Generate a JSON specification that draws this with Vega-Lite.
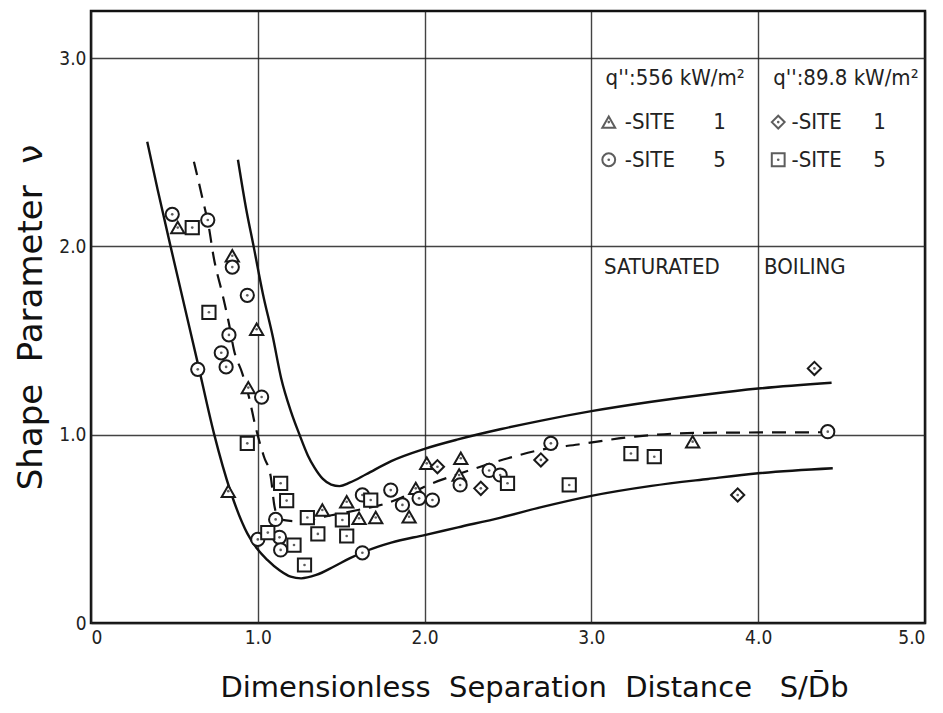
{
  "$schema": "https://vega.github.io/schema/vega-lite/v6.json",
  "width": 834,
  "height": 612,
  "autosize": {"type": "none"},
  "padding": {"left": 91, "top": 11, "right": 18, "bottom": 90},
  "background": "white",
  "config": {
    "view": {"stroke": "#111", "strokeWidth": 2.5},
    "font": "DejaVu Sans Condensed, DejaVu Sans",
    "axis": {
      "domain": false,
      "grid": true,
      "gridColor": "#222",
      "gridWidth": 1.4,
      "gridOpacity": 0.85,
      "ticks": false,
      "labelFont": "DejaVu Sans Condensed, DejaVu Sans",
      "labelFontSize": 19,
      "labelColor": "#222",
      "titleFont": "DejaVu Sans",
      "titleFontWeight": "normal",
      "titleColor": "#111"
    }
  },
  "datasets": {
    "curves": [
      {"curve": "upper", "x": 8.81, "v": 2.46}, {"curve": "upper", "x": 9.3, "v": 2.2}, {"curve": "upper", "x": 9.75, "v": 2.0},
      {"curve": "upper", "x": 10.3, "v": 1.75}, {"curve": "upper", "x": 10.9, "v": 1.52}, {"curve": "upper", "x": 11.4, "v": 1.3},
      {"curve": "upper", "x": 12.0, "v": 1.12}, {"curve": "upper", "x": 12.5, "v": 1.0}, {"curve": "upper", "x": 13.0, "v": 0.89},
      {"curve": "upper", "x": 13.4, "v": 0.825}, {"curve": "upper", "x": 13.9, "v": 0.765}, {"curve": "upper", "x": 14.4, "v": 0.735},
      {"curve": "upper", "x": 14.9, "v": 0.727}, {"curve": "upper", "x": 15.5, "v": 0.745}, {"curve": "upper", "x": 16.5, "v": 0.79},
      {"curve": "upper", "x": 18.0, "v": 0.86}, {"curve": "upper", "x": 20.0, "v": 0.925}, {"curve": "upper", "x": 22.0, "v": 0.975},
      {"curve": "upper", "x": 24.6, "v": 1.03}, {"curve": "upper", "x": 27.0, "v": 1.075}, {"curve": "upper", "x": 30.0, "v": 1.125},
      {"curve": "upper", "x": 33.6, "v": 1.175}, {"curve": "upper", "x": 37.0, "v": 1.215}, {"curve": "upper", "x": 40.0, "v": 1.245},
      {"curve": "upper", "x": 44.4, "v": 1.276},
      {"curve": "lower", "x": 3.37, "v": 2.556}, {"curve": "lower", "x": 4.0, "v": 2.3}, {"curve": "lower", "x": 4.77, "v": 2.0},
      {"curve": "lower", "x": 5.4, "v": 1.76}, {"curve": "lower", "x": 6.4, "v": 1.38}, {"curve": "lower", "x": 7.37, "v": 1.007},
      {"curve": "lower", "x": 8.37, "v": 0.697}, {"curve": "lower", "x": 9.37, "v": 0.476}, {"curve": "lower", "x": 10.0, "v": 0.39},
      {"curve": "lower", "x": 10.57, "v": 0.335}, {"curve": "lower", "x": 11.3, "v": 0.28}, {"curve": "lower", "x": 11.97, "v": 0.246},
      {"curve": "lower", "x": 12.6, "v": 0.237}, {"curve": "lower", "x": 13.5, "v": 0.255}, {"curve": "lower", "x": 14.57, "v": 0.3},
      {"curve": "lower", "x": 15.5, "v": 0.343}, {"curve": "lower", "x": 16.57, "v": 0.385}, {"curve": "lower", "x": 18.0, "v": 0.427},
      {"curve": "lower", "x": 20.0, "v": 0.467}, {"curve": "lower", "x": 22.0, "v": 0.508}, {"curve": "lower", "x": 24.57, "v": 0.56},
      {"curve": "lower", "x": 27.0, "v": 0.615}, {"curve": "lower", "x": 30.0, "v": 0.675}, {"curve": "lower", "x": 33.6, "v": 0.728},
      {"curve": "lower", "x": 37.0, "v": 0.765}, {"curve": "lower", "x": 40.0, "v": 0.795}, {"curve": "lower", "x": 44.47, "v": 0.822}
    ],
    "mean": [
      {"x": 6.17, "v": 2.45}, {"x": 6.67, "v": 2.26}, {"x": 7.07, "v": 2.1}, {"x": 7.35, "v": 1.945}, {"x": 7.87, "v": 1.75},
      {"x": 8.27, "v": 1.59}, {"x": 8.57, "v": 1.45}, {"x": 9.07, "v": 1.326}, {"x": 9.47, "v": 1.2}, {"x": 9.87, "v": 1.04},
      {"x": 10.37, "v": 0.883}, {"x": 10.77, "v": 0.78}, {"x": 11.0, "v": 0.62}, {"x": 11.3, "v": 0.55}, {"x": 12.5, "v": 0.54},
      {"x": 14.0, "v": 0.565}, {"x": 16.0, "v": 0.6}, {"x": 17.5, "v": 0.63}, {"x": 18.6, "v": 0.665}, {"x": 20.4, "v": 0.74},
      {"x": 22.0, "v": 0.79}, {"x": 25.0, "v": 0.875}, {"x": 27.0, "v": 0.92}, {"x": 29.2, "v": 0.948}, {"x": 32.6, "v": 0.99},
      {"x": 36.6, "v": 1.01}, {"x": 44.2, "v": 1.013}
    ],
    "obs": [
      {"site": "556-5", "x": 4.87, "v": 2.17}, {"site": "556-1", "x": 5.2, "v": 2.1}, {"site": "898-5", "x": 6.07, "v": 2.1},
      {"site": "556-5", "x": 7.0, "v": 2.14}, {"site": "556-1", "x": 8.47, "v": 1.95}, {"site": "556-5", "x": 8.47, "v": 1.89},
      {"site": "556-5", "x": 9.37, "v": 1.74}, {"site": "898-5", "x": 7.07, "v": 1.65}, {"site": "556-1", "x": 9.93, "v": 1.56},
      {"site": "556-5", "x": 8.27, "v": 1.53}, {"site": "556-5", "x": 7.81, "v": 1.435}, {"site": "556-5", "x": 8.1, "v": 1.36},
      {"site": "556-5", "x": 6.4, "v": 1.347}, {"site": "556-1", "x": 9.43, "v": 1.25}, {"site": "556-5", "x": 10.23, "v": 1.2},
      {"site": "898-5", "x": 9.37, "v": 0.954}, {"site": "556-1", "x": 8.23, "v": 0.7}, {"site": "898-5", "x": 11.37, "v": 0.742},
      {"site": "898-5", "x": 11.73, "v": 0.65}, {"site": "556-5", "x": 11.07, "v": 0.55}, {"site": "556-1", "x": 13.87, "v": 0.6},
      {"site": "898-5", "x": 12.97, "v": 0.56}, {"site": "556-1", "x": 15.33, "v": 0.644}, {"site": "556-5", "x": 16.27, "v": 0.68},
      {"site": "898-5", "x": 16.77, "v": 0.653}, {"site": "898-5", "x": 15.07, "v": 0.547}, {"site": "556-1", "x": 16.07, "v": 0.556},
      {"site": "556-1", "x": 17.07, "v": 0.56}, {"site": "556-5", "x": 10.0, "v": 0.444}, {"site": "556-5", "x": 11.3, "v": 0.455},
      {"site": "556-5", "x": 11.37, "v": 0.388}, {"site": "898-5", "x": 12.17, "v": 0.414}, {"site": "898-5", "x": 13.6, "v": 0.473},
      {"site": "898-5", "x": 15.33, "v": 0.462}, {"site": "556-5", "x": 16.27, "v": 0.373}, {"site": "898-5", "x": 12.8, "v": 0.308},
      {"site": "898-5", "x": 10.6, "v": 0.48}, {"site": "556-5", "x": 17.97, "v": 0.706}, {"site": "556-1", "x": 19.47, "v": 0.715},
      {"site": "556-5", "x": 18.67, "v": 0.627}, {"site": "556-1", "x": 19.07, "v": 0.564}, {"site": "556-5", "x": 19.67, "v": 0.662},
      {"site": "556-5", "x": 20.47, "v": 0.653}, {"site": "556-1", "x": 20.13, "v": 0.848}, {"site": "898-1", "x": 20.77, "v": 0.83},
      {"site": "556-1", "x": 22.17, "v": 0.875}, {"site": "556-1", "x": 22.07, "v": 0.786}, {"site": "556-5", "x": 22.13, "v": 0.733},
      {"site": "898-1", "x": 23.37, "v": 0.715}, {"site": "556-5", "x": 23.87, "v": 0.81}, {"site": "556-5", "x": 24.53, "v": 0.786},
      {"site": "898-5", "x": 24.97, "v": 0.742}, {"site": "556-5", "x": 27.57, "v": 0.954}, {"site": "898-1", "x": 26.97, "v": 0.866},
      {"site": "898-5", "x": 28.67, "v": 0.733}, {"site": "898-5", "x": 32.37, "v": 0.9}, {"site": "898-5", "x": 33.77, "v": 0.883},
      {"site": "556-1", "x": 36.07, "v": 0.963}, {"site": "898-1", "x": 43.37, "v": 1.352}, {"site": "556-5", "x": 44.17, "v": 1.016},
      {"site": "898-1", "x": 38.77, "v": 0.68}
    ],
    "key": [
      {"site": "556-1", "x": 31.04, "v": 2.66}, {"site": "556-5", "x": 31.04, "v": 2.46},
      {"site": "898-1", "x": 41.2, "v": 2.66}, {"site": "898-5", "x": 41.2, "v": 2.46}
    ],
    "notes": [
      {"x": 30.85, "v": 2.894, "t": "q'':556 kW/m²"},
      {"x": 40.9, "v": 2.894, "t": "q'':89.8 kW/m²"},
      {"x": 32.0, "v": 2.66, "t": "-SITE"}, {"x": 37.3, "v": 2.66, "t": "1"},
      {"x": 32.0, "v": 2.46, "t": "-SITE"}, {"x": 37.3, "v": 2.46, "t": "5"},
      {"x": 42.0, "v": 2.66, "t": "-SITE"}, {"x": 46.9, "v": 2.66, "t": "1"},
      {"x": 42.0, "v": 2.46, "t": "-SITE"}, {"x": 46.9, "v": 2.46, "t": "5"},
      {"x": 30.75, "v": 1.89, "t": "SATURATED"},
      {"x": 40.35, "v": 1.89, "t": "BOILING"}
    ]
  },
  "layer": [
    {
      "data": {"name": "curves"},
      "mark": {"type": "line", "interpolate": "monotone", "color": "#111", "strokeWidth": 2.4},
      "encoding": {
        "x": {"field": "x", "type": "quantitative", "scale": {"domain": [0, 50], "nice": false},
          "axis": {"values": [0, 10, 20, 30, 40, 50], "labelExpr": "datum.value == 0 ? '0' : format(datum.value / 10, '.1f')",
            "labelPadding": 5, "title": "Dimensionless\u00a0\u00a0Separation\u00a0\u00a0Distance\u00a0\u00a0\u00a0S/D̄b",
            "titleFontSize": 29, "titlePadding": 26, "titleX": 443, "titleAlign": "center"}},
        "y": {"field": "v", "type": "quantitative", "scale": {"domain": [0, 3.25], "nice": false},
          "axis": {"values": [0, 1, 2, 3], "labelExpr": "datum.value == 0 ? '0' : format(datum.value, '.1f')",
            "labelPadding": 5, "title": "Shape\u00a0\u00a0Parameter\u00a0\u00a0ν", "titleFontSize": 34, "titlePadding": 10}},
        "detail": {"field": "curve"},
        "order": {"field": "x"}
      }
    },
    {
      "data": {"name": "mean"},
      "mark": {"type": "line", "interpolate": "monotone", "color": "#111", "strokeWidth": 2.2, "strokeDash": [14, 9]},
      "encoding": {
        "x": {"field": "x", "type": "quantitative"},
        "y": {"field": "v", "type": "quantitative"},
        "order": {"field": "x"}
      }
    },
    {
      "data": {"name": "obs"},
      "mark": {"type": "point", "filled": false, "stroke": "#1a1a1a", "strokeWidth": 2, "size": 175, "fill": "white", "fillOpacity": 1},
      "encoding": {
        "x": {"field": "x", "type": "quantitative"},
        "y": {"field": "v", "type": "quantitative"},
        "shape": {"field": "site", "type": "nominal",
          "scale": {"domain": ["556-1", "556-5", "898-1", "898-5"], "range": ["triangle-up", "circle", "diamond", "square"]},
          "legend": null}
      }
    },
    {
      "data": {"name": "obs"},
      "mark": {"type": "point", "filled": true, "color": "#1a1a1a", "size": 7, "shape": "circle"},
      "encoding": {
        "x": {"field": "x", "type": "quantitative"},
        "y": {"field": "v", "type": "quantitative"}
      }
    },
    {
      "data": {"name": "key"},
      "mark": {"type": "point", "filled": false, "stroke": "#1a1a1a", "strokeWidth": 2, "size": 165},
      "encoding": {
        "x": {"field": "x", "type": "quantitative"},
        "y": {"field": "v", "type": "quantitative"},
        "shape": {"field": "site", "type": "nominal", "legend": null}
      }
    },
    {
      "data": {"name": "key"},
      "mark": {"type": "point", "filled": true, "color": "#1a1a1a", "size": 7, "shape": "circle"},
      "encoding": {
        "x": {"field": "x", "type": "quantitative"},
        "y": {"field": "v", "type": "quantitative"}
      }
    },
    {
      "data": {"name": "notes"},
      "mark": {"type": "text", "align": "left", "baseline": "middle", "fontSize": 22, "color": "#222", "font": "DejaVu Sans Condensed, DejaVu Sans"},
      "encoding": {
        "x": {"field": "x", "type": "quantitative"},
        "y": {"field": "v", "type": "quantitative"},
        "text": {"field": "t"}
      }
    }
  ]
}
